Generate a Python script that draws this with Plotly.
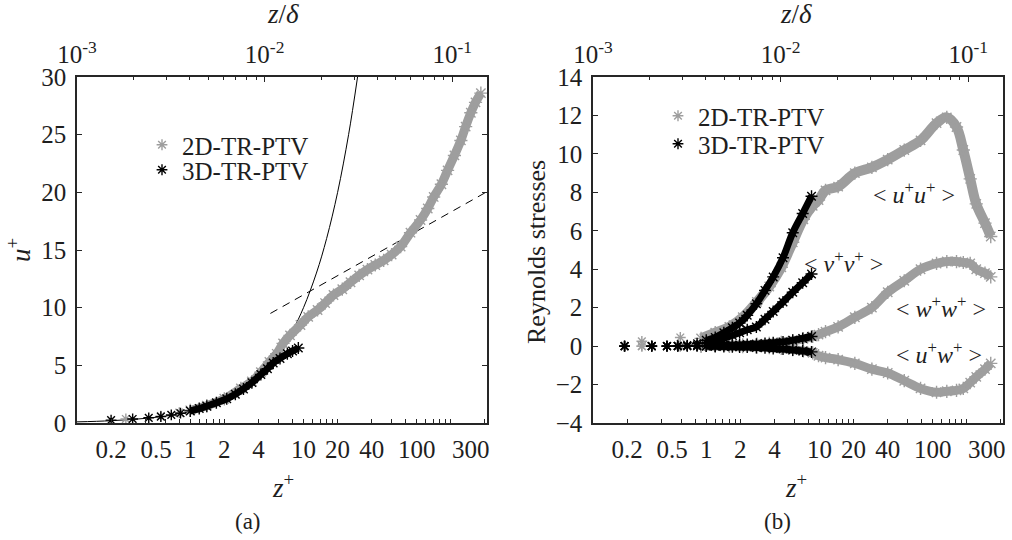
import plotly.graph_objects as go

W, H = 1012, 540
FONT = "Liberation Serif, Times New Roman, serif"
GREY = "rgb(158,158,158)"
BLACK = "rgb(0,0,0)"
AX = "rgb(38,38,38)"
TXT = "rgb(30,30,30)"

# ---------------- Panel (a): mean velocity ----------------
zp_visc = [0.1, 0.2, 0.5, 1, 2, 4, 6, 8, 10, 13, 16, 20, 25, 30]
up_visc = [0.1, 0.2, 0.5, 1, 2, 4, 6, 8, 10, 13, 16, 20, 25, 30]
zp_log = [5.1, 425]
up_log = [9.5, 20.1]

z2d_a = [0.27, 0.55, 0.8, 1.0, 1.4, 2.0, 2.8, 3.5, 4.2, 5.0, 5.8, 6.6, 7.6, 9.4, 11,
         13.3, 15.5, 18.4, 22, 26, 31, 36.7, 43, 51, 60, 72, 88, 108, 125, 141, 165,
         187, 215, 245, 270, 300, 330, 368]
u2d_a = [0.35, 0.6, 0.9, 1.1, 1.5, 2.1, 3.0, 3.6, 4.4, 5.3, 6.0, 6.9, 7.6, 8.5, 9.2,
         9.8, 10.4, 11.1, 11.6, 12.2, 12.8, 13.3, 13.7, 14.1, 14.6, 15.3, 16.5, 17.6,
         18.6, 19.6, 20.7, 21.9, 23.2, 24.5, 25.7, 26.9, 27.8, 28.6]

z3d_a = [0.2, 0.31, 0.43, 0.55, 0.68, 0.82, 1.0, 1.2, 1.4, 1.7, 2.1, 2.5, 2.95, 3.5,
         4.2, 4.8, 5.4, 6.2, 7.2, 8.0, 9.0]
u3d_a = [0.25, 0.35, 0.45, 0.55, 0.7, 0.85, 1.05, 1.25, 1.45, 1.75, 2.1, 2.5, 2.95,
         3.5, 4.2, 4.7, 5.2, 5.6, 6.0, 6.25, 6.5]

# ---------------- Panel (b): Reynolds stresses ----------------
z3d_b = [0.19, 0.33, 0.45, 0.56, 0.68, 0.83, 1.0, 1.2, 1.43, 1.7, 1.97, 2.3, 2.77,
         3.3, 3.9, 4.76, 5.8, 7.1, 8.5]
uu3d = [0.0, 0.0, 0.0, 0.02, 0.05, 0.15, 0.3, 0.45, 0.7, 0.95, 1.2, 1.6, 2.2, 2.9,
        3.6, 4.6, 5.9, 6.9, 7.8]
vv3d = [0.0, 0.0, 0.0, 0.0, 0.02, 0.05, 0.15, 0.25, 0.4, 0.55, 0.7, 0.85, 1.0, 1.4,
        1.8, 2.3, 2.8, 3.3, 3.75]
ww3d = [0.0, 0.0, 0.0, 0.0, 0.0, 0.0, 0.01, 0.02, 0.03, 0.05, 0.06, 0.08, 0.1, 0.13,
        0.17, 0.22, 0.3, 0.4, 0.5]
uw3d = [0.0, 0.0, 0.0, 0.0, 0.0, 0.0, 0.0, -0.01, -0.02, -0.03, -0.04, -0.05, -0.07,
        -0.09, -0.12, -0.15, -0.2, -0.25, -0.3]

z2d_b = [0.27, 0.59, 0.9, 1.2, 1.6, 2.1, 2.8, 3.6, 4.6, 5.8, 7.2, 8.7, 9.8, 11.3,
         14.6, 20.5, 29, 40, 56, 78, 108, 133, 162, 186, 214, 242, 289, 325]
uu2d = [0.25, 0.45, 0.4, 0.7, 1.0, 1.5, 2.3, 3.1, 4.1, 5.4, 6.6, 7.3, 7.6, 8.1, 8.3,
        9.0, 9.3, 9.7, 10.2, 10.7, 11.6, 11.9, 11.4, 10.2, 8.7, 7.4, 6.4, 5.7]
ww2d = [0.0, 0.0, 0.0, 0.02, 0.04, 0.06, 0.1, 0.15, 0.2, 0.28, 0.38, 0.5, 0.6, 0.75,
        1.0, 1.5, 2.0, 2.8, 3.4, 4.0, 4.3, 4.4, 4.4, 4.35, 4.3, 4.0, 3.8, 3.6]
uw2d = [0.0, 0.0, 0.0, 0.0, -0.01, -0.03, -0.05, -0.08, -0.12, -0.18, -0.25, -0.35,
        -0.5, -0.6, -0.7, -0.9, -1.2, -1.4, -1.8, -2.2, -2.4, -2.35, -2.3, -2.2, -1.9,
        -1.6, -1.2, -0.9]

# tick labels
zp_ticks = [0.2, 0.5, 1, 2, 4, 10, 20, 40, 100, 300]
zp_ticktext = ["0.2", "0.5", "1", "2", "4", "10", "20", "40", "100", "300"]
zd_ticks = [0.001, 0.01, 0.1]
zd_ticktext = ["10<sup>-3</sup>", "10<sup>-2</sup>", "10<sup>-1</sup>"]
ya_ticks = [0, 5, 10, 15, 20, 25, 30]
yb_ticks = [-4, -2, 0, 2, 4, 6, 8, 10, 12, 14]

SPARSE = 0.9  # below this z+ the markers are drawn individually


def px(x):
    return x / W


def py(y):
    return 1 - y / H


fig = go.Figure()


def star(color, size=8):
    return dict(symbol="asterisk-open", size=size, color=color,
                line=dict(color=color, width=1.4))


def add_series(z, v, color, xa, ya, name=None, legend=None, band=7, msize=10):
    zs = [a for a in z if a < SPARSE]
    vs = [b for a, b in zip(z, v) if a < SPARSE]
    zd = [a for a in z if a >= SPARSE]
    vd = [b for a, b in zip(z, v) if a >= SPARSE]
    fig.add_trace(go.Scatter(x=zd, y=vd, mode="lines+markers", xaxis=xa, yaxis=ya,
                             line=dict(color=color, width=band, shape="spline"),
                             marker=star(color, msize), showlegend=False,
                             hoverinfo="skip"))
    fig.add_trace(go.Scatter(x=zs, y=vs, mode="markers", xaxis=xa, yaxis=ya,
                             marker=star(color, 9), name=name or "",
                             showlegend=name is not None, legend=legend or "legend",
                             hoverinfo="skip"))


# Panel (a)
fig.add_trace(go.Scatter(x=zp_visc, y=up_visc, mode="lines", xaxis="x", yaxis="y",
                         line=dict(color="black", width=1, shape="spline"),
                         showlegend=False))
fig.add_trace(go.Scatter(x=zp_log, y=up_log, mode="lines", xaxis="x", yaxis="y",
                         line=dict(color="black", width=1, dash="8px,6px"),
                         showlegend=False))
add_series(z2d_a, u2d_a, GREY, "x", "y", "2D-TR-PTV", "legend", band=9, msize=11)
add_series(z3d_a, u3d_a, BLACK, "x", "y", "3D-TR-PTV", "legend3", band=7, msize=10)

# Panel (b)
add_series(z2d_b, uu2d, GREY, "x2", "y2", "2D-TR-PTV", "legend2", band=10, msize=11)
add_series(z2d_b, ww2d, GREY, "x2", "y2", band=9, msize=11)
add_series(z2d_b, uw2d, GREY, "x2", "y2", band=9, msize=11)
add_series(z3d_b, uu3d, BLACK, "x2", "y2", "3D-TR-PTV", "legend4", band=7)
add_series(z3d_b, vv3d, BLACK, "x2", "y2", band=7)
add_series(z3d_b, ww3d, BLACK, "x2", "y2", band=7)
add_series(z3d_b, uw3d, BLACK, "x2", "y2", band=7)

tickfont = dict(family=FONT, size=25, color=TXT)

bottom_minor = [0.2 * m * 10 ** k for k in range(4) for m in range(1, 10)
                if 0.1 <= 0.2 * m * 10 ** k <= 415]
top_minor = [m * 10 ** k for k in (-3, -2, -1) for m in range(1, 10)
             if m * 10 ** k <= 0.152]

XR = [-1, 2.62]
TR = [-3, -0.815]

common_x = dict(type="log", range=XR, tickmode="array", tickvals=zp_ticks,
                ticktext=zp_ticktext, ticks="", showline=True, linecolor=AX,
                linewidth=1.5, mirror=True, showgrid=False, zeroline=False,
                tickfont=tickfont, ticklabelstandoff=3, automargin=False,
                minor=dict(tickmode="array", tickvals=bottom_minor, ticks="inside",
                           ticklen=4, tickcolor=AX, tickwidth=1))
common_top = dict(type="log", range=TR, autorange=False, side="top",
                  tickmode="array", tickvals=zd_ticks, ticktext=zd_ticktext,
                  ticks="inside", ticklen=5, tickcolor=AX, tickwidth=1.2,
                  showgrid=False, zeroline=False, showline=False, tickfont=tickfont,
                  ticklabelstandoff=8, automargin=False,
                  minor=dict(tickmode="array", tickvals=top_minor, ticks="inside",
                             ticklen=3, tickcolor=AX, tickwidth=1))
common_y = dict(showline=True, linecolor=AX, linewidth=1.5, mirror="ticks",
                ticks="inside", ticklen=5, tickcolor=AX, tickwidth=1.2,
                showgrid=False, zeroline=False, tickfont=tickfont,
                ticklabelstandoff=4, automargin=False)

dom_a = [px(77), px(487)]
dom_b = [px(593), px(1003)]
dom_y = [py(423), py(77)]


def leg(x, y):
    return dict(x=px(x), y=py(y), xanchor="left", yanchor="top",
                bgcolor="rgba(0,0,0,0)", font=dict(family=FONT, size=25, color=TXT),
                itemwidth=30, tracegroupgap=0)


fig.update_layout(
    width=W, height=H, margin=dict(l=0, r=0, t=0, b=0, autoexpand=False),
    paper_bgcolor="white", plot_bgcolor="white",
    font=dict(family=FONT, size=25, color=TXT),
    xaxis=dict(domain=dom_a, anchor="y", **common_x),
    yaxis=dict(domain=dom_y, anchor="x", range=[0, 30], tickvals=ya_ticks, **common_y),
    xaxis2=dict(domain=dom_b, anchor="y2", **common_x),
    yaxis2=dict(domain=dom_y, anchor="x2", range=[-4, 14], tickvals=yb_ticks,
                **common_y),
    xaxis3=dict(overlaying="x", anchor="y", **common_top),
    xaxis4=dict(overlaying="x2", anchor="y2", **common_top),
    legend=leg(142, 122),
    legend3=leg(142, 147),
    legend2=leg(658, 93),
    legend4=leg(658, 121),
    showlegend=True,
)

# invisible anchors so the top axes are drawn
fig.add_trace(go.Scatter(x=[0.01], y=[None], xaxis="x3", yaxis="y", mode="markers",
                         showlegend=False, hoverinfo="skip"))
fig.add_trace(go.Scatter(x=[0.01], y=[None], xaxis="x4", yaxis="y2", mode="markers",
                         showlegend=False, hoverinfo="skip"))

ann = []


def text(x, y, s, size=26, angle=0):
    ann.append(dict(x=px(x), y=py(y), xref="paper", yref="paper", text=s,
                    showarrow=False, textangle=angle,
                    font=dict(family=FONT, size=size, color=TXT),
                    xanchor="center", yanchor="middle"))


text(283, 14, "<i>z</i>/<i>δ</i>", 27)
text(796, 14, "<i>z</i>/<i>δ</i>", 27)
text(283, 486, "<i>z</i><sup>+</sup>", 27)
text(796, 486, "<i>z</i><sup>+</sup>", 27)
text(248, 521, "(a)", 23)
text(777, 521, "(b)", 23)
text(19, 250, "<i>u</i><sup>+</sup>", 27, angle=-90)
text(536, 252, "Reynolds stresses", 26, angle=-90)
text(914, 193, "&lt; <i>u</i><sup>+</sup><i>u</i><sup>+</sup> &gt;", 24)
text(843, 262, "&lt; <i>v</i><sup>+</sup><i>v</i><sup>+</sup> &gt;", 24)
text(941, 307, "&lt; <i>w</i><sup>+</sup><i>w</i><sup>+</sup> &gt;", 24)
text(939, 353, "&lt; <i>u</i><sup>+</sup><i>w</i><sup>+</sup> &gt;", 24)
fig.update_layout(annotations=ann)

fig.write_html("out.html")
